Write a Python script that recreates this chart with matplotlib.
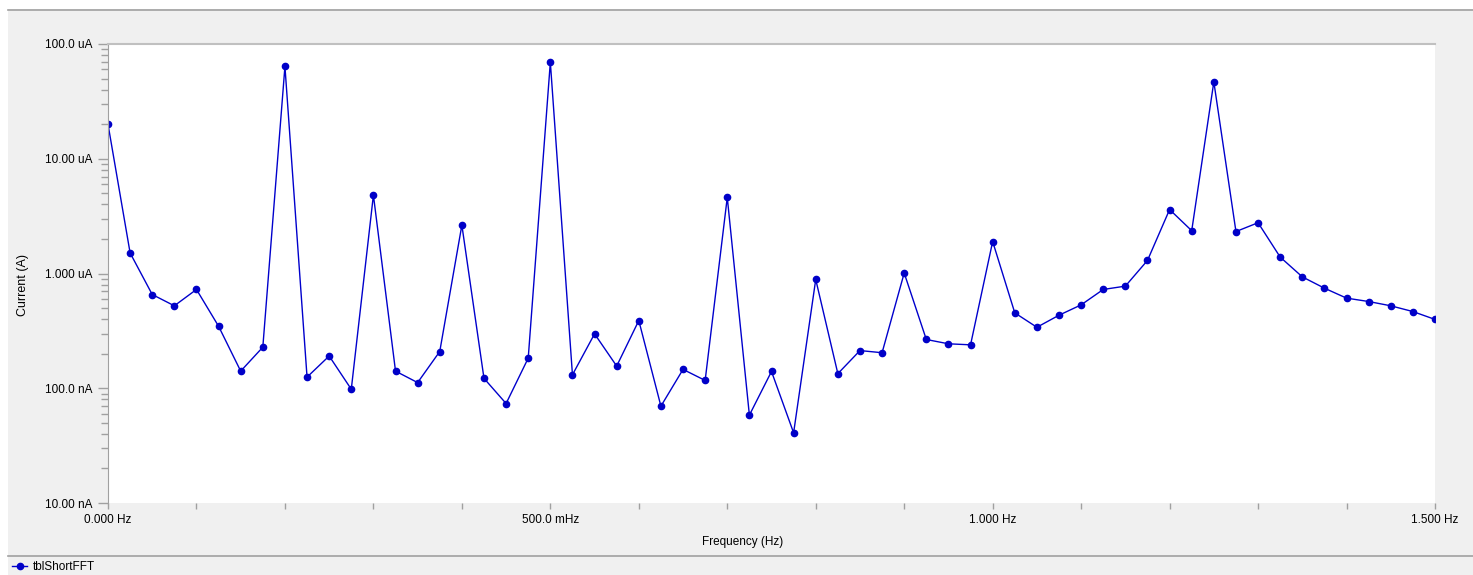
import numpy as np
import matplotlib.pyplot as plt
from matplotlib.patches import Rectangle
from matplotlib.lines import Line2D
from matplotlib.ticker import FixedLocator, LogLocator, NullFormatter

plt.rcParams["font.family"] = ["Liberation Sans", "DejaVu Sans"]

# FFT bins, 25 mHz spacing
freq_hz = [i * 0.025 for i in range(61)]
current_ua = [
    20.0, 1.51, 0.656, 0.523, 0.726, 0.347, 0.141, 0.228, 63.7, 0.125,
    0.191, 0.098, 4.82, 0.141, 0.112, 0.209, 2.64, 0.122, 0.0736, 0.183,
    69.4, 0.131, 0.298, 0.156, 0.389, 0.0698, 0.146, 0.117, 4.60, 0.0583,
    0.140, 0.0409, 0.887, 0.134, 0.213, 0.204, 1.01, 0.266, 0.244, 0.239,
    1.90, 0.454, 0.340, 0.433, 0.533, 0.726, 0.776, 1.30, 3.61, 2.36,
    46.8, 2.32, 2.77, 1.39, 0.935, 0.745, 0.610, 0.570, 0.523, 0.466,
    0.398,
]
series_name = "tblShortFFT"

ytick_values = [0.01, 0.1, 1.0, 10.0, 100.0]
ytick_labels = ["10.00 nA", "100.0 nA", "1.000 uA", "10.00 uA", "100.0 uA"]
xtick_values = [0.0, 0.5, 1.0, 1.5]
xtick_labels = ["0.000 Hz", "500.0 mHz", "1.000 Hz", "1.500 Hz"]

W, H = 1473, 575
fig = plt.figure(figsize=(W / 100, H / 100), dpi=100, facecolor="white")

# grey panel behind everything, with the thin separator lines
fig.add_artist(Rectangle((8 / W, 0), 1, 1 - 9 / H, transform=fig.transFigure,
                         facecolor="#f0f0f0", edgecolor="none", zorder=-10))
fig.add_artist(Line2D([8 / W, 1], [1 - 9.5 / H, 1 - 9.5 / H], transform=fig.transFigure,
                      color="#a0a0a0", lw=1.2))
fig.add_artist(Line2D([8 / W, 1], [1 - 555.5 / H, 1 - 555.5 / H], transform=fig.transFigure,
                      color="#a0a0a0", lw=1.2))

ax = fig.add_axes([108 / W, 1 - 503 / H, (1435 - 108) / W, (503 - 44) / H])
ax.set_facecolor("white")

line, = ax.plot(freq_hz, current_ua, color="#0000cc", lw=1.0, marker="o",
                ms=4.5, mfc="#0000c8", mec="#0000c8", label=series_name)

ax.set_yscale("log")
ax.set_ylim(0.01, 100)
ax.set_xlim(0, 1.5)

ax.yaxis.set_major_locator(FixedLocator(ytick_values))
ax.set_yticklabels(ytick_labels)
ax.yaxis.set_minor_locator(LogLocator(base=10, subs=np.arange(2, 10)))
ax.yaxis.set_minor_formatter(NullFormatter())

ax.set_xticks(xtick_values)
ax.set_xticklabels(xtick_labels)
ax.set_xticks(np.arange(0.1, 1.5, 0.1), minor=True)

ax.tick_params(axis="y", which="major", length=7, width=1, color="#a0a0a0",
               labelsize=8.5, pad=4)
ax.tick_params(axis="y", which="minor", length=5, width=1, color="#a0a0a0")
ax.tick_params(axis="x", which="both", length=4, width=1, color="#a0a0a0",
               labelsize=8.5, pad=4)

for side in ["right", "bottom"]:
    ax.spines[side].set_visible(False)
ax.spines["left"].set_color("#a0a0a0")
ax.spines["top"].set_color("#c0c0c0")
ax.spines["top"].set_linewidth(1.5)

ax.set_xlabel("Frequency (Hz)", fontsize=8.5)
ax.xaxis.set_label_coords((743 - 108) / 1327, -(536 - 503) / 459)
ax.set_ylabel("Current (A)", fontsize=9)
ax.yaxis.set_label_coords(-(108 - 29) / 1327, (503 - 284.5) / 459)

fig.legend(handles=[line], loc="center left", bbox_to_anchor=(0.005, 1 - 567.5 / H),
           frameon=False, fontsize=8.5, handlelength=1.3, handletextpad=0.5,
           borderaxespad=0)

fig.savefig("out.png", dpi=100, facecolor=fig.get_facecolor())
plt.close()
